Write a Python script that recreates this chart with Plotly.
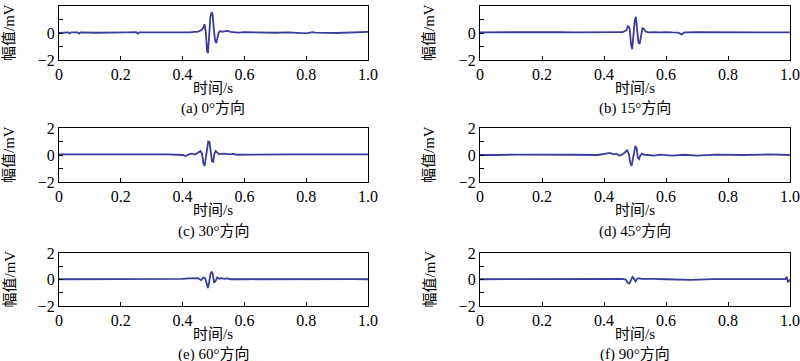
import plotly.graph_objects as go

# ---- data ----
t_a = [0.000, 0.030, 0.035, 0.040, 0.060, 0.065, 0.070, 0.120, 0.220, 0.250, 0.255, 0.260, 0.300, 0.330, 0.370, 0.400, 0.420, 0.440, 0.450, 0.460, 0.466, 0.471, 0.475, 0.479, 0.482, 0.486, 0.490, 0.494, 0.497, 0.501, 0.505, 0.509, 0.513, 0.517, 0.522, 0.528, 0.535, 0.545, 0.555, 0.565, 0.580, 0.600, 0.620, 0.640, 0.660, 0.700, 0.740, 0.800, 0.820, 0.830, 0.900, 0.970, 1.000]
v_a = [0.00, 0.05, -0.03, 0.05, 0.04, -0.04, 0.05, 0.02, 0.04, 0.06, -0.04, 0.05, 0.05, 0.04, 0.03, 0.02, 0.05, 0.08, 0.10, 0.20, 0.35, 0.65, 0.10, -1.30, -1.50, -0.20, 1.20, 1.55, 1.40, 0.30, -0.55, -0.75, -0.40, 0.05, 0.15, 0.08, 0.12, 0.15, 0.08, 0.05, 0.03, 0.06, 0.05, 0.03, 0.07, 0.02, 0.05, -0.03, 0.06, 0.03, 0.00, 0.02, 0.08]

t_b = [0.000, 0.050, 0.055, 0.100, 0.150, 0.200, 0.260, 0.300, 0.360, 0.400, 0.440, 0.460, 0.472, 0.478, 0.483, 0.487, 0.491, 0.495, 0.499, 0.503, 0.507, 0.511, 0.515, 0.519, 0.524, 0.529, 0.535, 0.545, 0.560, 0.580, 0.600, 0.620, 0.640, 0.650, 0.660, 0.700, 0.750, 0.800, 0.850, 0.900, 0.950, 1.000]
v_b = [0.05, 0.06, 0.03, 0.04, 0.03, 0.05, 0.07, 0.04, 0.05, 0.04, 0.05, 0.06, 0.20, 0.55, 0.30, -0.80, -1.20, -0.30, 0.90, 1.20, 0.20, -0.70, -0.80, -0.10, 0.35, 0.30, 0.10, 0.05, 0.07, 0.04, 0.07, 0.04, 0.03, -0.10, 0.04, 0.06, 0.05, 0.06, 0.04, 0.06, 0.05, 0.05]

t_c = [0.000, 0.040, 0.050, 0.100, 0.180, 0.250, 0.300, 0.350, 0.400, 0.410, 0.420, 0.430, 0.440, 0.450, 0.458, 0.463, 0.467, 0.471, 0.475, 0.479, 0.483, 0.487, 0.491, 0.495, 0.499, 0.503, 0.507, 0.512, 0.518, 0.525, 0.535, 0.550, 0.565, 0.575, 0.600, 0.650, 0.700, 0.750, 0.800, 0.850, 0.900, 0.950, 1.000]
v_c = [0.05, 0.08, 0.05, 0.04, 0.05, 0.06, 0.07, 0.05, 0.00, -0.08, 0.05, 0.10, 0.03, 0.15, 0.30, 0.10, -0.60, -0.80, -0.20, 0.50, 1.00, 0.95, 0.10, -0.45, -0.50, 0.10, 0.30, 0.20, 0.05, 0.08, 0.10, 0.05, 0.08, 0.02, 0.03, 0.04, 0.03, 0.05, 0.04, 0.06, 0.05, 0.04, 0.05]

t_d = [0.000, 0.045, 0.050, 0.120, 0.220, 0.230, 0.250, 0.300, 0.380, 0.400, 0.410, 0.420, 0.430, 0.440, 0.450, 0.460, 0.468, 0.474, 0.480, 0.485, 0.489, 0.493, 0.497, 0.501, 0.505, 0.509, 0.513, 0.517, 0.522, 0.528, 0.540, 0.560, 0.580, 0.620, 0.660, 0.700, 0.760, 0.780, 0.850, 0.930, 0.950, 1.000]
v_d = [0.00, 0.04, 0.00, 0.03, 0.04, 0.00, 0.03, 0.02, 0.00, 0.05, 0.10, 0.15, 0.05, 0.10, -0.05, 0.05, 0.20, 0.35, 0.10, -0.60, -0.80, -0.30, 0.40, 0.65, 0.55, -0.20, -0.30, -0.05, 0.10, 0.02, 0.00, -0.05, 0.03, -0.05, 0.02, -0.04, 0.03, 0.02, 0.00, 0.04, 0.02, 0.00]

t_e = [0.000, 0.100, 0.230, 0.300, 0.350, 0.400, 0.420, 0.440, 0.450, 0.460, 0.467, 0.473, 0.478, 0.482, 0.486, 0.490, 0.494, 0.498, 0.502, 0.507, 0.512, 0.518, 0.525, 0.535, 0.545, 0.555, 0.600, 0.660, 0.700, 0.750, 0.800, 0.850, 0.900, 0.950, 1.000]
v_e = [0.02, 0.02, 0.03, 0.04, 0.03, 0.05, 0.08, 0.06, 0.10, -0.05, 0.15, 0.10, -0.40, -0.65, -0.20, 0.40, 0.60, 0.40, -0.25, -0.10, 0.15, 0.05, 0.10, 0.05, 0.08, 0.02, 0.02, 0.03, 0.04, 0.03, 0.04, 0.03, 0.04, 0.03, 0.02]

t_f = [0.000, 0.100, 0.200, 0.300, 0.400, 0.440, 0.460, 0.470, 0.476, 0.482, 0.487, 0.492, 0.497, 0.502, 0.507, 0.512, 0.520, 0.530, 0.560, 0.600, 0.680, 0.750, 0.800, 0.900, 0.985, 0.990, 0.993, 1.000]
v_f = [0.02, 0.03, 0.02, 0.04, 0.03, 0.02, 0.05, 0.00, -0.25, -0.30, 0.00, 0.20, 0.05, -0.15, 0.05, 0.10, 0.04, 0.03, 0.05, 0.02, -0.03, 0.03, 0.02, 0.03, 0.03, 0.20, -0.20, 0.00]

captions = ["(a) 0°方向", "(b) 15°方向", "(c) 30°方向", "(d) 45°方向", "(e) 60°方向", "(f) 90°方向"]
x_ticks = [0, 0.2, 0.4, 0.6, 0.8, 1.0]
x_tick_text = ["0", "0.2", "0.4", "0.6", "0.8", "1.0"]
y_ticks = [-2, -1, 0, 1, 2]
y_tick_text = ["−2", "", "0", "", "2"]
x_title = "时间/s"
y_title = "幅值/mV"

series = [(t_a, v_a), (t_b, v_b), (t_c, v_c), (t_d, v_d), (t_e, v_e), (t_f, v_f)]
for t, v in series:
    assert len(t) == len(v)

# ---- layout geometry (pixels) ----
W, H = 800, 361
col_x = [(59, 368), (480, 790)]
row_y = [(6, 60), (128, 182), (253, 306)]
xtitle_y = [88, 210, 334]
caption_y = [108, 231, 354]
ytitle_x = [9, 429]


def px(x):
    return x / W


def py(y):
    return 1 - y / H


FONT = "Liberation Serif, 'Noto Sans CJK SC', serif"
LINE = "#3c3c9a"

fig = go.Figure()
ann = []
for i, (t, v) in enumerate(series):
    r, c = divmod(i, 2)
    n = i + 1
    xa = "x" if n == 1 else f"x{n}"
    ya = "y" if n == 1 else f"y{n}"
    fig.add_trace(go.Scatter(x=t, y=v, mode="lines", xaxis=xa, yaxis=ya,
                             line=dict(color=LINE, width=1.8), showlegend=False,
                             hoverinfo="skip"))
    x0, x1 = col_x[c]
    y0, y1 = row_y[r]
    common = dict(showline=True, linecolor="black", linewidth=1, mirror=True,
                  ticks="inside", ticklen=4, tickcolor="black", showgrid=False,
                  zeroline=False, automargin=False,
                  tickfont=dict(family=FONT, size=16, color="black"))
    fig.layout[f"xaxis{'' if n == 1 else n}"] = dict(
        domain=[px(x0), px(x1)], range=[0, 1], anchor=ya,
        tickvals=x_ticks, ticktext=x_tick_text, **common)
    fig.layout[f"yaxis{'' if n == 1 else n}"] = dict(
        domain=[py(y1), py(y0)], range=[-2, 2], anchor=xa,
        tickvals=y_ticks, ticktext=y_tick_text, **common)
    cx = px((x0 + x1) / 2)
    ann.append(dict(x=cx, y=py(xtitle_y[r]), xref="paper", yref="paper",
                    text=x_title, showarrow=False, xanchor="center", yanchor="middle",
                    font=dict(family=FONT, size=15, color="black")))
    ann.append(dict(x=cx, y=py(caption_y[r]), xref="paper", yref="paper",
                    text=captions[i], showarrow=False, xanchor="center", yanchor="middle",
                    font=dict(family=FONT, size=15, color="black")))
    ann.append(dict(x=px(ytitle_x[c]), y=py((y0 + y1) / 2), xref="paper", yref="paper",
                    text=y_title, showarrow=False, textangle=-90, xanchor="center",
                    yanchor="middle", font=dict(family=FONT, size=15, color="black")))

fig.update_layout(width=W, height=H,
                  margin=dict(l=0, r=0, t=0, b=0, pad=0, autoexpand=False),
                  paper_bgcolor="white", plot_bgcolor="white", annotations=ann)
# the page body has a default 8px margin; remove it so the figure fills the window
fig.write_html("out.html", config={"displayModeBar": False},
               post_script="document.body.style.margin='0px';document.body.style.overflow='hidden';")
